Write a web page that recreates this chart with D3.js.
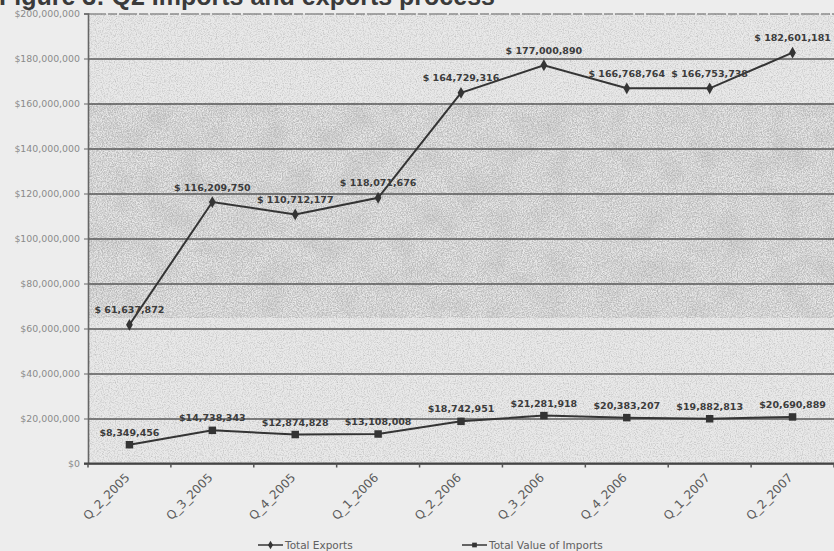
<!DOCTYPE html>
<html>
<head>
<meta charset="utf-8">
<script src="https://cdn.jsdelivr.net/npm/d3@7"></script>
<style>
  html, body { margin: 0; padding: 0; background: #ededed; }
  svg { display: block; }
</style>
</head>
<body>
<svg id="chart" width="834" height="551"></svg>
<script>
// Quarterly trade totals
const quarters = ["Q_2_2005", "Q_3_2005", "Q_4_2005", "Q_1_2006", "Q_2_2006",
                  "Q_3_2006", "Q_4_2006", "Q_1_2007", "Q_2_2007"];
const totalExports = [61637872, 116209750, 110712177, 118071676, 164729316,
                      177000890, 166768764, 166753738, 182601181];
const totalImports = [8349456, 14738343, 12874828, 13108008, 18742951,
                      21281918, 20383207, 19882813, 20690889];
const yTicks = [0, 20000000, 40000000, 60000000, 80000000, 100000000,
                120000000, 140000000, 160000000, 180000000, 200000000];
const seriesNames = ["Total Exports", "Total Value of Imports"];
const titleText = "Figure 3: Q2 Imports and exports process";

const plot = { left: 88, right: 834, top: 13.5, bottom: 463.5 };
const svg = d3.select("#chart");

const x = d3.scaleBand().domain(quarters).range([plot.left, plot.right]).padding(0);
const y = d3.scaleLinear().domain([0, 200000000]).range([plot.bottom, plot.top]);
const cx = d => x(d) + x.bandwidth() / 2;

const money = d3.format(",");

// grain texture for the plotting area
const defs = svg.append("defs");
function grainFilter(id, freq, seed, slope, offset) {
  const f = defs.append("filter").attr("id", id)
    .attr("x", 0).attr("y", 0).attr("width", 1).attr("height", 1)
    .attr("filterUnits", "objectBoundingBox");
  f.append("feTurbulence").attr("type", "fractalNoise")
    .attr("baseFrequency", freq).attr("numOctaves", 2).attr("seed", seed).attr("result", "n");
  f.append("feColorMatrix").attr("in", "n").attr("type", "matrix")
    .attr("values", `0 0 0 0 0.35  0 0 0 0 0.35  0 0 0 0 0.35  ${slope} 0 0 0 ${offset}`);
}
grainFilter("grainLight", 0.85, 4, 2.2, -0.95);
grainFilter("grainDark", 0.8, 9, 3.0, -1.15);
grainFilter("mottle", 0.035, 2, 1.6, -0.7);

defs.append("clipPath").attr("id", "plotClip").append("rect")
  .attr("x", plot.left).attr("y", plot.top)
  .attr("width", plot.right - plot.left).attr("height", plot.bottom - plot.top);

const bg = svg.append("g").attr("clip-path", "url(#plotClip)");
bg.append("rect").attr("x", plot.left).attr("y", plot.top)
  .attr("width", plot.right - plot.left).attr("height", plot.bottom - plot.top)
  .attr("fill", "#e9e9e9");
bg.append("rect").attr("x", plot.left).attr("y", plot.top)
  .attr("width", plot.right - plot.left).attr("height", plot.bottom - plot.top)
  .attr("filter", "url(#grainLight)").attr("opacity", 0.55);
bg.append("rect").attr("x", plot.left).attr("y", y(160000000))
  .attr("width", plot.right - plot.left).attr("height", y(65000000) - y(160000000))
  .attr("filter", "url(#mottle)").attr("opacity", 0.3);
bg.append("rect").attr("x", plot.left).attr("y", y(160000000))
  .attr("width", plot.right - plot.left).attr("height", y(65000000) - y(160000000))
  .attr("filter", "url(#grainDark)").attr("opacity", 0.55);

// title, mostly cropped off the top edge
svg.append("text")
  .attr("x", -1).attr("y", 4.5)
  .attr("font-family", "'Liberation Sans', Arial, sans-serif")
  .attr("font-weight", "bold").attr("font-size", 25)
  .attr("fill", "#3a3a3a")
  .text(titleText);

// horizontal gridlines
const grid = svg.append("g")
  .attr("transform", `translate(${plot.left},0)`)
  .call(d3.axisLeft(y).tickValues(yTicks).tickSize(-(plot.right - plot.left)).tickFormat(""));
grid.select(".domain").remove();
grid.selectAll(".tick line")
  .attr("stroke", "#4a4a4a")
  .attr("stroke-width", d => d === 200000000 ? 1.2 : 1.6)
  .attr("stroke-dasharray", d => d === 200000000 ? "18 2 9 2" : null)
  .attr("opacity", d => d === 200000000 ? 0.85 : 0.9);

// y axis with dollar labels
const yAxis = svg.append("g")
  .attr("transform", `translate(${plot.left},0)`)
  .call(d3.axisLeft(y).tickValues(yTicks).tickSize(4).tickPadding(4)
    .tickFormat(d => "$" + money(d)));
yAxis.select(".domain").attr("stroke", "#666").attr("stroke-width", 1.6);
yAxis.selectAll(".tick line").attr("stroke", "#666");
yAxis.selectAll(".tick text")
  .attr("font-family", "'DejaVu Sans', Verdana, sans-serif")
  .attr("font-size", 9.4).attr("fill", "#8a8a8a");

// x axis: labels at band centres, tick marks at band edges
const xAxis = svg.append("g")
  .attr("transform", `translate(0,${plot.bottom})`)
  .call(d3.axisBottom(x).tickSize(0).tickPadding(0));
xAxis.select(".domain").remove();
xAxis.selectAll(".tick text")
  .attr("font-family", "'DejaVu Sans', Verdana, sans-serif")
  .attr("font-size", 12).attr("fill", "#5a5a5a")
  .attr("text-anchor", "end")
  .attr("dy", "0.35em")
  .attr("transform", "translate(-2,12) rotate(-45)");

svg.append("line")
  .attr("x1", plot.left - 4).attr("x2", plot.right)
  .attr("y1", plot.bottom).attr("y2", plot.bottom)
  .attr("stroke", "#444").attr("stroke-width", 2);
svg.append("g").selectAll("line")
  .data(quarters.concat([null]))
  .join("line")
  .attr("x1", d => d === null ? plot.right : x(d))
  .attr("x2", d => d === null ? plot.right : x(d))
  .attr("y1", plot.bottom).attr("y2", plot.bottom + 4)
  .attr("stroke", "#555").attr("stroke-width", 1.5);

// series lines
const line = d3.line().x((d, i) => cx(quarters[i])).y(d => y(d));
const ink = "#343434";

svg.append("path").datum(totalExports)
  .attr("d", line).attr("fill", "none")
  .attr("stroke", ink).attr("stroke-width", 2);
svg.append("path").datum(totalImports)
  .attr("d", line).attr("fill", "none")
  .attr("stroke", ink).attr("stroke-width", 2);

const diamond = d3.symbol().type(d3.symbolDiamond).size(40);
const square = d3.symbol().type(d3.symbolSquare).size(56);

svg.append("g").selectAll("path")
  .data(totalExports).join("path")
  .attr("d", diamond)
  .attr("transform", (d, i) => `translate(${cx(quarters[i])},${y(d)})`)
  .attr("fill", ink);
svg.append("g").selectAll("path")
  .data(totalImports).join("path")
  .attr("d", square)
  .attr("transform", (d, i) => `translate(${cx(quarters[i])},${y(d)})`)
  .attr("fill", ink);

// value labels
const labelFont = "'DejaVu Sans', Verdana, sans-serif";
svg.append("g").selectAll("text")
  .data(totalExports).join("text")
  .attr("x", (d, i) => cx(quarters[i]))
  .attr("y", d => y(d) - 11.5)
  .attr("text-anchor", "middle")
  .attr("font-family", labelFont).attr("font-weight", "bold")
  .attr("font-size", 9.5).attr("fill", "#3c3c3c")
  .text(d => "$ " + money(d));
svg.append("g").selectAll("text")
  .data(totalImports).join("text")
  .attr("x", (d, i) => cx(quarters[i]))
  .attr("y", d => y(d) - 9)
  .attr("text-anchor", "middle")
  .attr("font-family", labelFont).attr("font-weight", "bold")
  .attr("font-size", 9.5).attr("fill", "#3c3c3c")
  .text(d => "$" + money(d));

// legend
const legend = svg.append("g");
const legendItems = [
  { name: seriesNames[0], x: 258, sym: d3.symbol().type(d3.symbolDiamond).size(22) },
  { name: seriesNames[1], x: 462, sym: d3.symbol().type(d3.symbolSquare).size(22) }
];
legendItems.forEach(it => {
  const g = legend.append("g").attr("transform", `translate(${it.x},545)`);
  g.append("line").attr("x1", 0).attr("x2", 25).attr("y1", 0).attr("y2", 0)
    .attr("stroke", ink).attr("stroke-width", 1.5);
  g.append("path").attr("d", it.sym).attr("transform", "translate(12.5,0)").attr("fill", ink);
  g.append("text").attr("x", 27).attr("y", 0).attr("dy", "0.35em")
    .attr("font-family", labelFont).attr("font-size", 10.5)
    .attr("fill", "#606060").text(it.name);
});
</script>
</body>
</html>
